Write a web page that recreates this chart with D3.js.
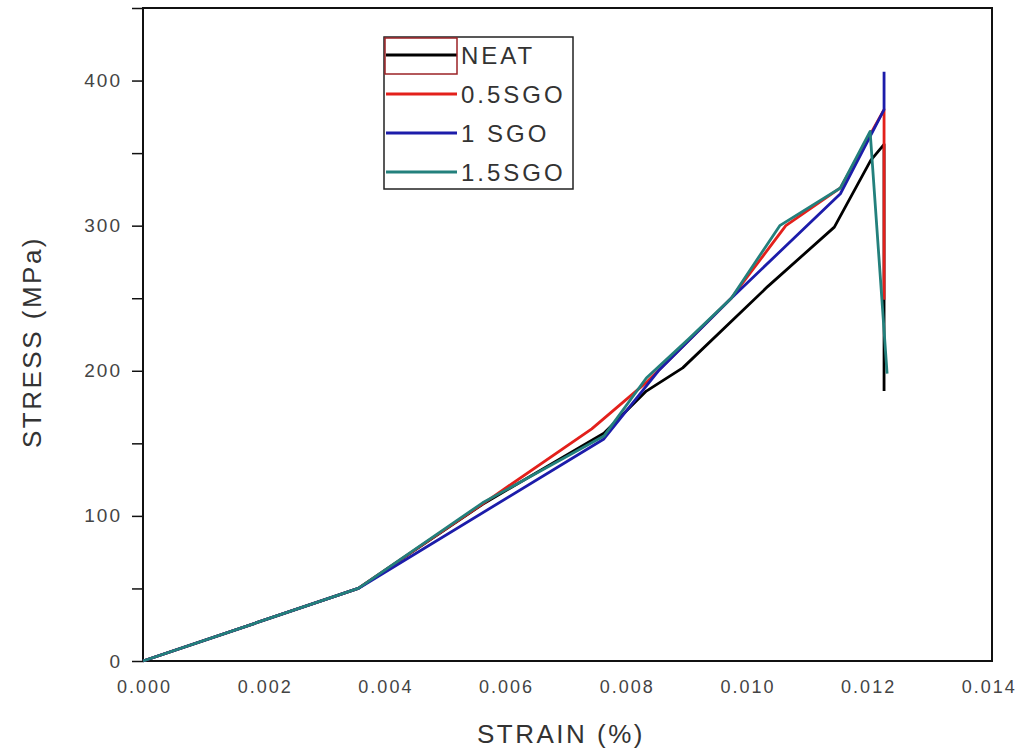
<!DOCTYPE html>
<html>
<head>
<meta charset="utf-8">
<script src="https://cdn.jsdelivr.net/npm/d3@7"></script>
<style>
  body { margin: 0; background: #fff; }
  text { font-family: "Liberation Sans", Arial, sans-serif; }
</style>
</head>
<body>
<div id="chart"></div>
<script>
// Data
var seriesNames = ["NEAT", "0.5SGO", "1 SGO", "1.5SGO"];
var seriesColors = ["#000000", "#e3201b", "#1c1caa", "#23807c"];

var strainNeat = [0, 0.00355, 0.0056, 0.0076, 0.0083, 0.0089, 0.0103, 0.0114, 0.0120, 0.01222, 0.01222];
var stressNeat = [0, 50, 108, 157, 186, 202, 258, 299, 345, 356, 186];

var strainSgo05 = [0, 0.00355, 0.0058, 0.0074, 0.0083, 0.0097, 0.0106, 0.0115, 0.01222, 0.01222];
var stressSgo05 = [0, 50, 114, 160, 192, 250, 300, 326, 380, 249];

var strainSgo1 = [0, 0.00355, 0.0076, 0.0085, 0.0097, 0.0115, 0.01222, 0.01222];
var stressSgo1 = [0, 50, 153, 200, 250, 322, 380, 406];

var strainSgo15 = [0, 0.00355, 0.0056, 0.0076, 0.0083, 0.0090, 0.0097, 0.0105, 0.0115, 0.01199, 0.01227];
var stressSgo15 = [0, 50, 109, 155, 195, 222, 250, 300, 326, 365, 198];

var xTicks = [0, 0.002, 0.004, 0.006, 0.008, 0.010, 0.012, 0.014];
var yTicks = [0, 50, 100, 150, 200, 250, 300, 350, 400, 450];

var series = [
  {name: seriesNames[0], color: seriesColors[0], x: strainNeat, y: stressNeat},
  {name: seriesNames[1], color: seriesColors[1], x: strainSgo05, y: stressSgo05},
  {name: seriesNames[2], color: seriesColors[2], x: strainSgo1, y: stressSgo1},
  {name: seriesNames[3], color: seriesColors[3], x: strainSgo15, y: stressSgo15}
];

var W = 1024, H = 749;
var margin = {top: 8, right: 32, bottom: 88, left: 143};
var width = W - margin.left - margin.right;
var height = H - margin.top - margin.bottom;

var svg = d3.select('#chart').append('svg')
  .attr('width', W)
  .attr('height', H);

var chart = svg.append('g')
  .attr('transform', 'translate(' + margin.left + ',' + margin.top + ')');

var x = d3.scaleLinear().domain([0, 0.014]).range([0, width]);
var y = d3.scaleLinear().domain([0, 450]).range([height, 0]);

// Axes
var yAxis = d3.axisLeft(y)
  .tickValues(yTicks)
  .tickSize(11)
  .tickPadding(10)
  .tickFormat(function(d) { return d % 100 === 0 && d < 450 ? d : ''; });

var gy = chart.append('g').classed('y axis', true).call(yAxis);
gy.select('.domain').remove();
gy.selectAll('line').attr('stroke', '#111').attr('stroke-width', 1.5);
gy.selectAll('text')
  .style('font-size', '19px')
  .style('letter-spacing', '2px')
  .attr('fill', '#444');

var xAxis = d3.axisBottom(x)
  .tickValues(xTicks)
  .tickSize(0)
  .tickPadding(19)
  .tickFormat(d3.format('.3f'));

var gx = chart.append('g').classed('x axis', true)
  .attr('transform', 'translate(0,' + height + ')')
  .call(xAxis);
gx.select('.domain').remove();
gx.selectAll('text')
  .style('font-size', '18px')
  .style('letter-spacing', '2px')
  .attr('dx', function(d, i) { return (1 - i * 0.6) + 'px'; })
  .attr('fill', '#444');

// Frame
chart.append('rect')
  .attr('x', 0)
  .attr('y', 0)
  .attr('width', width)
  .attr('height', height)
  .attr('fill', 'none')
  .attr('stroke', '#111')
  .attr('stroke-width', 2);

// Lines
var line = d3.line()
  .x(function(d) { return x(d[0]); })
  .y(function(d) { return y(d[1]); });

chart.append('g').classed('data-series', true)
  .selectAll('path')
  .data(series)
  .enter()
  .append('path')
  .attr('d', function(s) {
    return line(s.x.map(function(v, i) { return [v, s.y[i]]; }));
  })
  .attr('fill', 'none')
  .attr('stroke', function(s) { return s.color; })
  .attr('stroke-width', 2.8)
  .attr('stroke-linejoin', 'round');

// Legend
var legend = svg.append('g').attr('transform', 'translate(384,37)');
legend.append('rect')
  .attr('width', 189)
  .attr('height', 152)
  .attr('fill', 'none')
  .attr('stroke', '#222')
  .attr('stroke-width', 1.5);

var items = legend.selectAll('.item')
  .data(series)
  .enter()
  .append('g')
  .classed('item', true)
  .attr('transform', function(d, i) { return 'translate(0,' + (18 + i * 39) + ')'; });

items.append('line')
  .attr('x1', 2)
  .attr('x2', 73)
  .attr('stroke', function(d) { return d.color; })
  .attr('stroke-width', 3);

items.append('text')
  .attr('x', 77)
  .attr('dy', '0.36em')
  .style('font-size', '24px')
  .style('letter-spacing', '3px')
  .attr('fill', '#333')
  .text(function(d) { return d.name; });

legend.append('rect')
  .attr('x', 1)
  .attr('y', 1)
  .attr('width', 72)
  .attr('height', 36)
  .attr('fill', 'none')
  .attr('stroke', '#9b2226')
  .attr('stroke-width', 1.5);

// Axis titles
svg.append('text')
  .attr('transform', 'translate(41,' + 342 + ') rotate(-90)')
  .style('text-anchor', 'middle')
  .style('font-size', '26px')
  .style('letter-spacing', '2.5px')
  .attr('fill', '#333')
  .text('STRESS (MPa)');

svg.append('text')
  .attr('x', 561)
  .attr('y', 743)
  .style('text-anchor', 'middle')
  .style('font-size', '26px')
  .style('letter-spacing', '2.5px')
  .attr('fill', '#333')
  .text('STRAIN (%)');
</script>
</body>
</html>
